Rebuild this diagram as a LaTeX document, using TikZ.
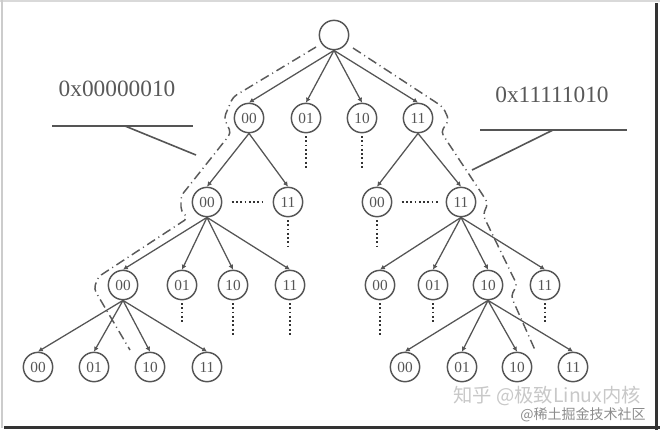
\documentclass[tikz,border=0pt]{standalone}
\usepackage{fontspec}
\setmainfont{Liberation Serif}
\newfontfamily\cjkfont{Noto Sans CJK SC}
\usepackage{xcolor}
\usetikzlibrary{positioning,arrows.meta,calc}
\definecolor{ink}{HTML}{555555}
\definecolor{trailgray}{HTML}{5A5A5A}
\definecolor{wmark}{HTML}{C8C8C8}
\tikzset{
  bit/.style ={circle, draw=ink, line width=1.1pt, minimum size=22pt, inner sep=0pt, text=ink, font=\fontsize{11.5}{12}\selectfont},
  link/.style={-{Latex[length=3.6pt,width=3.8pt]}, draw=ink, line width=0.95pt},
  dots/.style={draw=black!80, line width=1.4pt, dash pattern=on 1.4pt off 1.8pt},
  trail/.style={draw=trailgray, line width=1.1pt, rounded corners=3pt, dash pattern=on 7pt off 3pt on 0.8pt off 3pt},
  lead/.style={draw=ink, line width=1.2pt},
  addr/.style={text=black!65, font=\fontsize{17.5}{20}\selectfont, inner sep=0pt},
}

\begin{document}
\begin{tikzpicture}[x=0.75pt, y=-0.75pt]
  \useasboundingbox (0,0) rectangle (660,430);
  % frame
  \draw[black!15, line width=1.2pt] (0,1) -- (660,1);
  \draw[black!20, line width=1.2pt] (2,0) -- (2,428);
  \draw[black!80, line width=2.2pt] (4,427.5) -- (660,427.5);
  \draw[black!80, line width=1.6pt] (656.5,3) -- (656.5,430);

  % tree
  \node[bit] (r) at (334,35) {};
  \node[bit] (a00) at (249,118) {00};
  \node[bit] (a01) at (306,118) {01};
  \node[bit] (a10) at (362,118) {10};
  \node[bit] (a11) at (418,118) {11};

  \node[bit] (bL00) at (207,202) {00};
  \node[bit] (bL11) at (288,202) {11};
  \node[bit] (bR00) at (377,202) {00};
  \node[bit] (bR11) at (461,202) {11};

  \node[bit] (cL00) at (123,285) {00};
  \node[bit] (cL01) at (182,285) {01};
  \node[bit] (cL10) at (233,285) {10};
  \node[bit] (cL11) at (290,285) {11};
  \node[bit] (cR00) at (380,285) {00};
  \node[bit] (cR01) at (433,285) {01};
  \node[bit] (cR10) at (488,285) {10};
  \node[bit] (cR11) at (545,285) {11};

  \node[bit] (dL00) at (38,367)  {00};
  \node[bit] (dL01) at (94,367)  {01};
  \node[bit] (dL10) at (150,367) {10};
  \node[bit] (dL11) at (207,367) {11};
  \node[bit] (dR00) at (405,367) {00};
  \node[bit] (dR01) at (462,367) {01};
  \node[bit] (dR10) at (517,367) {10};
  \node[bit] (dR11) at (573,367) {11};

  \foreach \c in {a00,a01,a10,a11}
    \draw[link] (r.south) -- (\c.north);
  \foreach \c in {bL00,bL11}
    \draw[link] (a00.south) -- (\c.north);
  \foreach \c in {bR00,bR11}
    \draw[link] (a11.south) -- (\c.north);
  \foreach \c in {cL00,cL01,cL10,cL11}
    \draw[link] (bL00.south) -- (\c.north);
  \foreach \c in {cR00,cR01,cR10,cR11}
    \draw[link] (bR11.south) -- (\c.north);
  \foreach \c in {dL00,dL01,dL10,dL11}
    \draw[link] (cL00.south) -- (\c.north);
  \foreach \c in {dR00,dR01,dR10,dR11}
    \draw[link] (cR10.south) -- (\c.north);

  % omitted branches
  \coordinate (e01) at (306,169);
  \coordinate (e10) at (362,169);
  \coordinate (eL11) at (288,247);
  \coordinate (eR00) at (377,246);
  \coordinate (fL01) at (182,322);
  \coordinate (fL10) at (233,335);
  \coordinate (fL11) at (290,335);
  \coordinate (fR00) at (380,335);
  \coordinate (fR01) at (433,322);
  \coordinate (fR11) at (545,322);
  \foreach \n/\e in {a01/e01, a10/e10, bL11/eL11, bR00/eR00, cL01/fL01, cL10/fL10,
                     cL11/fL11, cR00/fR00, cR01/fR01, cR11/fR11}
    \draw[dots, shorten <=2pt] (\n.south) -- (\e);
  \draw[dots, shorten <=7pt, shorten >=6pt] (bL00.east) -- (bL11.west);
  \draw[dots, shorten <=7pt, shorten >=6pt] (bR00.east) -- (bR11.west);

  % search paths
  \draw[trail] (316,47) -- (233,97) -- (224,118) -- (231,133) -- (181,196)
    -- (181,211) -- (188,218) -- (98,277) -- (94,289) -- (130,350);
  \draw[trail] (353,48) -- (443,107) -- (449,120) -- (441,132) -- (488,203)
    -- (483,215) -- (517,285) -- (511,296) -- (535,350);

  % address labels
  \node[addr] (addrL) at (117,89) {0x00000010};
  \node[addr] (addrR) at (552,95) {0x11111010};
  \coordinate (lL1) at (52,126);
  \coordinate (lL2) at (193,126);
  \coordinate (lLk) at (125,126);
  \coordinate (lLt) at (196,155);
  \coordinate (lR1) at (480,130);
  \coordinate (lR2) at (627,130);
  \coordinate (lRk) at (553,130);
  \coordinate (lRt) at (472,170);
  \draw[lead] (lL1) -- (lL2);
  \draw[lead] (lLk) -- (lLt);
  \draw[lead] (lR1) -- (lR2);
  \draw[lead] (lRk) -- (lRt);

  % watermarks
  \node[text=wmark, font=\cjkfont\fontsize{14.5}{16}\selectfont, anchor=west, inner sep=0pt]
    (wm1) at (453,396) {知乎 @极致Linux内核};
  \node[text=black!45, font=\cjkfont\fontsize{10.5}{13}\selectfont, anchor=west, inner sep=0pt]
    (wm2) at (520,415) {@稀土掘金技术社区};
\end{tikzpicture}
\end{document}
